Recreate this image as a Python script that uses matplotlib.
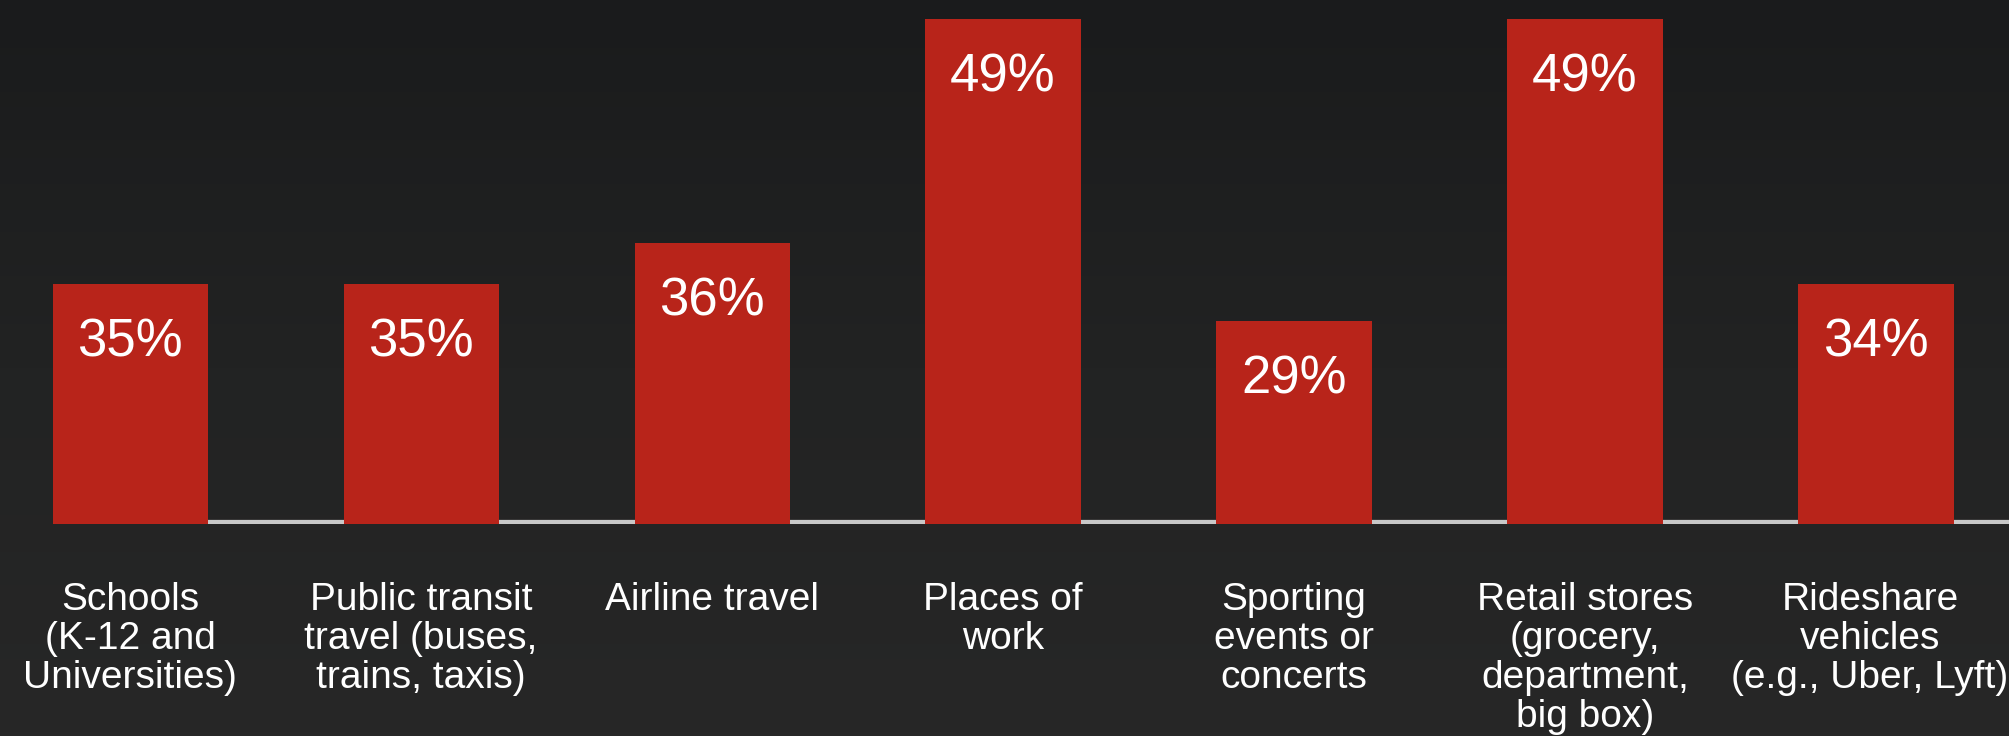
import matplotlib.pyplot as plt
import matplotlib.transforms as mtransforms
import numpy as np
from matplotlib.colors import LinearSegmentedColormap

# values printed on the bars
categories = ["Schools\n(K-12 and\nUniversities)",
              "Public transit\ntravel (buses,\ntrains, taxis)",
              "Airline travel",
              "Places of\nwork",
              "Sporting\nevents or\nconcerts",
              "Retail stores\n(grocery,\ndepartment,\nbig box)",
              "Rideshare\nvehicles\n(e.g., Uber, Lyft)"]
values = [35, 35, 36, 49, 29, 49, 34]
# bar lengths as drawn in the picture (not proportional to the values)
bar_heights = [240, 240, 281, 505, 203, 505, 240]

plt.rcParams['font.family'] = ['Liberation Sans', 'DejaVu Sans']
bg = "#1f2021"
red = "#b8241a"

fig = plt.figure(figsize=(20.09, 7.36), dpi=100)
fig.patch.set_facecolor(bg)

# dark background, a bit lighter toward the bottom
bgax = fig.add_axes([0, 0, 1, 1], zorder=0)
bgax.axis("off")
cmap = LinearSegmentedColormap.from_list("bg", ["#1a1b1c", "#222323", "#272727"])
bgax.imshow(np.linspace(0, 1, 200).reshape(-1, 1), cmap=cmap, aspect="auto",
            extent=[0, 1, 0, 1], origin="upper")

ax = fig.add_axes([0, 0.288, 1, 0.712], zorder=1)
ax.patch.set_alpha(0)

x = list(range(len(values)))
ax.set_xlim(-0.447, 6.457)
ax.set_ylim(0, 524)

# baseline
ax.axhline(1, xmin=0.0866, xmax=1, color="#c8c8c8", lw=4.5, zorder=1)
ax.bar(x, bar_heights, width=0.533, color=red, zorder=2)

for xi, h, v in zip(x, bar_heights, values):
    ax.text(xi, h - 58, f"{v}%", ha="center", va="center",
            color="white", fontsize=38, zorder=3)

ax.set_xticks(x)
ax.set_xticklabels(categories, color="white", fontsize=28,
                   linespacing=1.1, va="top")
ax.tick_params(axis="x", length=0, pad=42)
ax.set_yticks([])
for s in ax.spines.values():
    s.set_visible(False)

# nudge the last label so it stays inside the right edge
last = ax.get_xticklabels()[-1]
last.set_transform(last.get_transform() +
                   mtransforms.ScaledTranslation(-6 / 100, 0, fig.dpi_scale_trans))

plt.savefig("out.png", dpi=100, facecolor=bg)
